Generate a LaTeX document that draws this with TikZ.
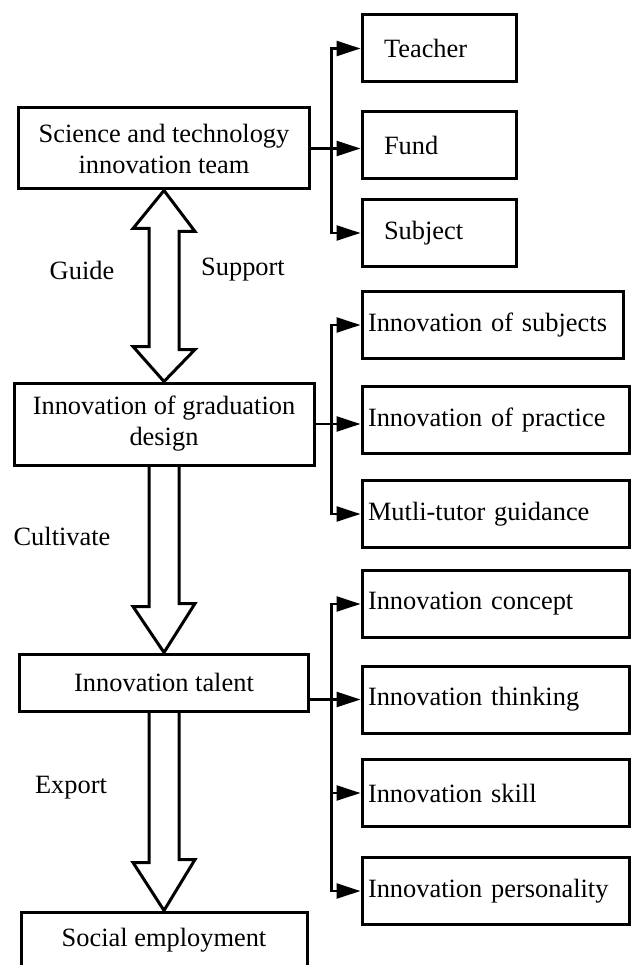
\documentclass[tikz,border=0pt]{standalone}
\usepackage{fontspec}
\setmainfont{Liberation Serif}
\usetikzlibrary{arrows.meta}
\usetikzlibrary{calc}

\begin{document}
\begin{tikzpicture}[x=1pt,y=-1pt]
\useasboundingbox (0,0) rectangle (630,965);
\tikzstyle{main}=[draw,line width=3pt,align=center,inner sep=0pt,
        font=\fontsize{26.4}{31}\selectfont]
\tikzstyle{leaf}=[draw,line width=3pt,align=left,inner ysep=0pt,
        minimum height=67pt,font=\fontsize{26.4}{31}\selectfont]
\tikzstyle{short}=[leaf,text width=110pt,inner xsep=22pt]
\tikzstyle{long}=[leaf,text width=255pt,inner xsep=6pt]
\tikzstyle{lab}=[font=\fontsize{26.4}{31}\selectfont]
%style of the arrows
\tikzstyle{link}=[-{Triangle[length=24pt,width=15pt]},line width=2.5pt]
\tikzstyle{hollow}=[line width=3pt,line join=miter]
%placing the nodes
\node[main,minimum width=291pt,minimum height=81pt] (sci) at (164,148.5) {Science and technology\\innovation team};
\node[main,minimum width=300pt,minimum height=82pt] (grad) at (164,424) {Innovation of graduation\\design};
\node[main,minimum width=289pt,minimum height=57pt] (talent) at (164,682.5) {Innovation talent};
\node[main,minimum width=286pt,minimum height=56pt] (social) at (164,940) {Social employment};
\node[short] (teacher) at (439,48.5) {Teacher};
\node[short] (fund) at (439,145.5) {Fund};
\node[short] (subject) at (439,233) {Subject};
\node[long,text width=249pt] (subj) at (492.5,325) {Innovation of subjects};
\node[long] (practice) at (495.5,420) {Innovation of practice};
\node[long] (mutli) at (495.5,514) {Mutli-tutor guidance};
\node[long] (concept) at (495.5,604) {Innovation concept};
\node[long] (think) at (495.5,699.5) {Innovation thinking};
\node[long] (skill) at (495.5,793) {Innovation skill};
\node[long] (person) at (495.5,891) {Innovation personality};
\node[lab] (guide) at (82,270) {Guide};
\node[lab] (support) at (243,270) {Support};
\node[lab] (cultivate) at (62,536) {Cultivate};
\node[lab] (export) at (71,788) {Export};
%big arrows
\draw[hollow] (sci.south) -- ++(31,41) -- ++(-16,0) -- ++(0,118) -- ++(16,0) -- (grad.north)
        -- ++(-31,-35) -- ++(16,0) -- ++(0,-118) -- ++(-16,0) -- cycle;
\draw[hollow] ([xshift=-15pt]grad.south) -- ++(0,140) -- ++(-16,0) -- (talent.north)
        -- ++(31,-49) -- ++(-16,0) -- ([xshift=15pt]grad.south);
\draw[hollow] ([xshift=-15pt]talent.south) -- ++(0,150) -- ++(-16,0) -- (social.north)
        -- ++(31,-51) -- ++(-16,0) -- ([xshift=15pt]talent.south);
%branches
\coordinate (b1) at ($(teacher.west |- sci.east)+(-29,0)$);
\draw[link] (sci.east) -- (sci.east -| fund.west);
\draw[link] (b1) |- (teacher.west);
\draw[link] (b1) |- (subject.west);
\coordinate (b2) at ($(practice.west |- grad.east)+(-29,0)$);
\draw[link] (grad.east) -- (grad.east -| practice.west);
\draw[link] (b2) |- (subj.west);
\draw[link] (b2) |- (mutli.west);
\coordinate (b3) at ($(think.west)+(-29,0)$);
\draw[link] (talent.east |- think.west) -- (think.west);
\draw[link] (b3) |- (concept.west);
\draw[link] (b3) |- (skill.west);
\draw[link] (b3) |- (person.west);
\end{tikzpicture}
\end{document}
